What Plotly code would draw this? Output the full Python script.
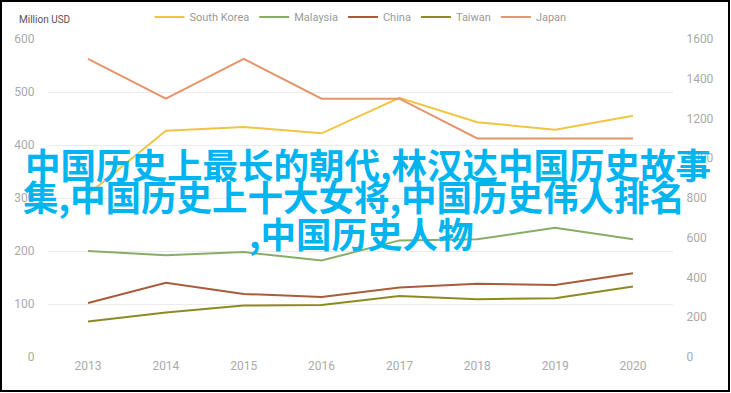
import plotly.graph_objects as go

years = [2013, 2014, 2015, 2016, 2017, 2018, 2019, 2020]
year_labels = [str(y) for y in years]

south_korea = [307, 427, 434, 422, 489, 443, 429, 455]
malaysia = [200, 192, 198, 182, 220, 222, 244, 222]
china = [102, 140, 119, 113, 131, 138, 136, 158]
taiwan = [67, 84, 97, 98, 115, 109, 111, 133]
japan = [1500, 1300, 1500, 1300, 1300, 1100, 1100, 1100]

left_ticks = [0, 100, 200, 300, 400, 500, 600]
right_ticks = [0, 200, 400, 600, 800, 1000, 1200, 1400, 1600]

overlay_lines = [
    "中国历史上最长的朝代,林汉达中国历史故事",
    "集,中国历史上十大女将,中国历史伟人排名",
    ",中国历史人物",
]

series = [
    ("South Korea", south_korea, "#F2C443", "y"),
    ("Malaysia", malaysia, "#87AE68", "y"),
    ("China", china, "#A95C3C", "y"),
    ("Taiwan", taiwan, "#8E8A22", "y"),
    ("Japan", japan, "#E4956B", "y2"),
]

fig = go.Figure()
for name, vals, color, axis in series:
    fig.add_trace(go.Scatter(
        x=years, y=vals, name=name, mode="lines", yaxis=axis,
        line=dict(color=color, width=2),
    ))

tick_font = dict(family="Roboto, Open Sans, sans-serif", size=12, color="#AAAAAA")

fig.update_layout(
    width=731, height=393,
    margin=dict(l=48, r=58, t=39, b=36, autoexpand=False),
    paper_bgcolor="white", plot_bgcolor="white",
    showlegend=True,
    legend=dict(
        orientation="h", x=0.5, xanchor="center", y=1.069, yanchor="middle",
        font=dict(family="Roboto, sans-serif", size=11, color="#9A9A9A"),
        itemwidth=30, tracegroupgap=0, bgcolor="rgba(0,0,0,0)",
    ),
    xaxis=dict(
        range=[2012.486, 2020.514], tickmode="array", tickvals=years,
        ticktext=year_labels, showgrid=False, zeroline=False, showline=False,
        ticks="", tickfont=tick_font, automargin=False,
    ),
    yaxis=dict(
        range=[0, 600], tickmode="array", tickvals=left_ticks,
        showgrid=True, gridcolor="#ECECEC", gridwidth=1, zeroline=False,
        showline=False, ticks="outside", ticklen=10, tickcolor="rgba(0,0,0,0)",
        tickfont=tick_font, automargin=False,
    ),
    yaxis2=dict(
        range=[0, 1600], tickmode="array", tickvals=right_ticks,
        overlaying="y", side="right", showgrid=False, zeroline=False,
        showline=False, ticks="outside", ticklen=10, tickcolor="rgba(0,0,0,0)",
        tickfont=tick_font, automargin=False,
    ),
)

fig.add_annotation(
    text="Million USD", xref="paper", yref="paper", x=-0.0496, y=1.06,
    xanchor="left", yanchor="middle", showarrow=False,
    font=dict(family="Roboto, sans-serif", size=10, color="#555555"),
)

blue_font = dict(family="Noto Sans CJK SC", size=35.5, color="#00B4F0")
positions = [(0.512, 0.608), (0.489, 0.509), (0.5008, 0.393)]
for txt, (px, py) in zip(overlay_lines, positions):
    fig.add_annotation(
        text="<b>" + txt + "</b>", xref="paper", yref="paper", x=px, y=py,
        xanchor="center", yanchor="middle", showarrow=False, font=blue_font,
    )

fig.add_shape(
    type="rect", xref="paper", yref="paper",
    x0=-0.0752, x1=1.0896, y0=-0.1069, y1=1.1195,
    line=dict(color="black", width=2), fillcolor="rgba(0,0,0,0)", layer="above",
)

fig.write_html(
    "out.html",
    config={"displayModeBar": False},
    post_script="document.body.style.margin='0';document.body.style.overflow='hidden';",
)
